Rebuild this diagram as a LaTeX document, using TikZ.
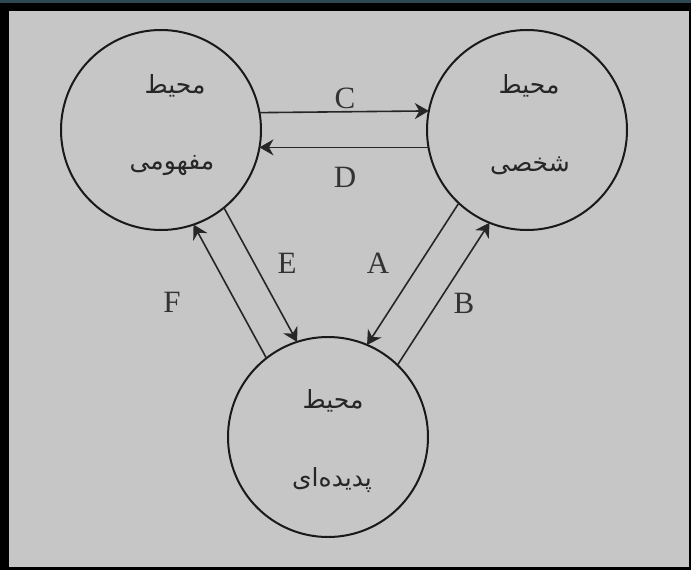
\documentclass[tikz,border=0pt]{standalone}
\usepackage{fontspec}
\setmainfont{Liberation Serif}
\newfontfamily\arabicfont[Script=Arabic]{DejaVu Sans}
\TeXXeTstate=1
\usetikzlibrary{arrows.meta}
\tikzset{
  env/.style={circle, draw=black!90, line width=2pt, minimum size=200pt, inner sep=0pt, outer sep=0pt},
  flow/.style={draw=black!85, line width=1.6pt, -{Stealth[length=14pt,width=16pt,inset=4.5pt]}},
  lbl/.style={font=\fontsize{31}{31}\selectfont, text=black!80, inner sep=0pt},
  fa/.style={font=\arabicfont\fontsize{25}{25}\selectfont, text=black!85, inner sep=0pt}
}
\begin{document}
\begin{tikzpicture}[x=1pt,y=-1pt]
\useasboundingbox (0,0) rectangle (691,570);
\fill[black] (0,0) rectangle (691,570);
\fill[fill={rgb,255:red,46;green,72;blue,82}] (0,0) rectangle (691,3);
\fill[fill={rgb,255:red,198;green,198;blue,198}] (8.5,11) rectangle (689,567);
% circles
\node[env] (L) at (161,130) {};
\node[env] (R) at (527,130) {};
\node[env] (B) at (328,437) {};
% texts
\node[fa] (L1) at (175,86) {\beginR محیط\endR};
\node[fa] (L2) at (172,166) {\beginR مفهومی\endR};
\node[fa] (R1) at (529,86) {\beginR محیط\endR};
\node[fa] (R2) at (530,166) {\beginR شخصی\endR};
\node[fa] (B1) at (333,401) {\beginR محیط\endR};
\node[fa] (B2) at (332,480) {\beginR پدیده‌ای\endR};
% connectors
\draw[flow] (L.10.08) -- (R.169.92);
\draw[flow] (R.190.08) -- (L.-10.08);
\draw[flow] (L.-51.37) -- (B.108.47);
\draw[flow] (B.128.63) -- (L.-71.53);
\draw[flow] (R.-133.03) -- (B.67.13);
\draw[flow] (B.46.97) -- (R.-112.87);
% labels
\node[lbl] (lC) at (345,98) {C};
\node[lbl] (lD) at (345,177) {D};
\node[lbl] (lE) at (287,263) {E};
\node[lbl] (lA) at (378,263) {A};
\node[lbl] (lF) at (172,302) {F};
\node[lbl] (lB) at (464,303) {B};
\end{tikzpicture}
\end{document}
